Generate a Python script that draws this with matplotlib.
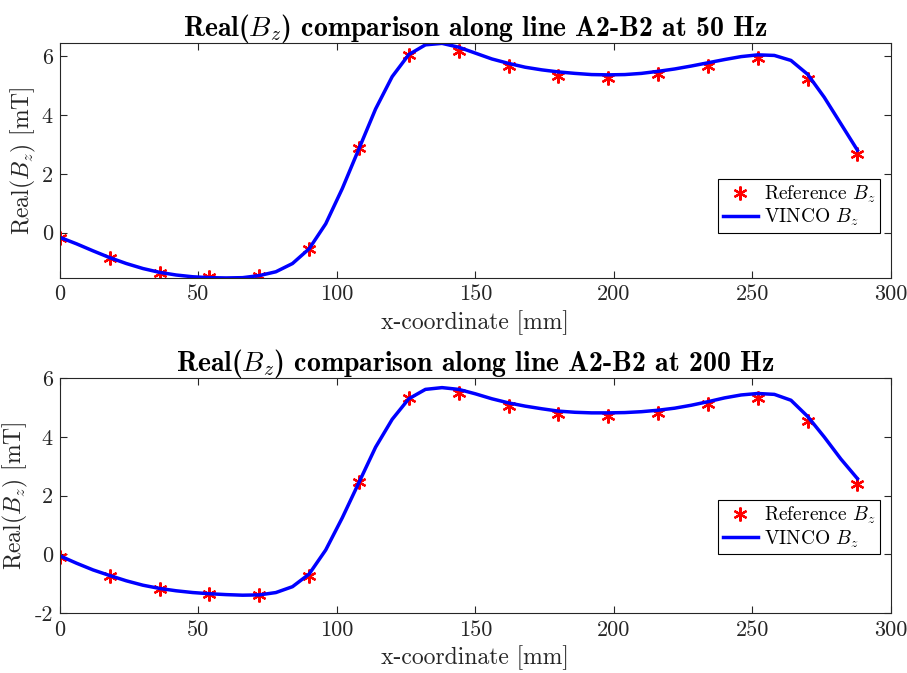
import matplotlib
matplotlib.use('Agg')
import matplotlib.pyplot as plt
from matplotlib.ticker import FuncFormatter

plt.rcParams['font.family'] = 'cmr10'
plt.rcParams['mathtext.fontset'] = 'cm'
plt.rcParams['axes.unicode_minus'] = False

# reference points (every 18 mm)
x_ref = [0, 18, 36, 54, 72, 90, 108, 126, 144, 162, 180, 198, 216, 234, 252, 270, 288]
ref_50 = [-0.19, -0.87, -1.36, -1.52, -1.46, -0.57, 2.87, 6.04, 6.18, 5.66, 5.32,
          5.24, 5.38, 5.67, 5.92, 5.21, 2.66]
ref_200 = [-0.09, -0.72, -1.18, -1.34, -1.37, -0.72, 2.45, 5.32, 5.50, 5.07, 4.79,
           4.70, 4.81, 5.13, 5.33, 4.53, 2.41]

# VINCO curve (every 6 mm)
x_vinco = list(range(0, 289, 6))
vinco_50 = [-0.16, -0.38, -0.62, -0.85, -1.05, -1.22, -1.35, -1.44, -1.50, -1.53,
            -1.54, -1.53, -1.46, -1.33, -1.05, -0.55, 0.30, 1.50, 2.85, 4.20,
            5.30, 6.05, 6.38, 6.43, 6.30, 6.10, 5.90, 5.75, 5.62, 5.53,
            5.46, 5.41, 5.37, 5.36, 5.37, 5.41, 5.48, 5.56, 5.66, 5.77,
            5.88, 5.98, 6.04, 6.02, 5.85, 5.38, 4.60, 3.70, 2.80]
vinco_200 = [-0.05, -0.30, -0.53, -0.72, -0.90, -1.05, -1.16, -1.24, -1.30, -1.34,
             -1.37, -1.39, -1.38, -1.30, -1.10, -0.67, 0.15, 1.25, 2.45, 3.65,
             4.60, 5.30, 5.62, 5.68, 5.62, 5.47, 5.30, 5.16, 5.05, 4.96,
             4.88, 4.84, 4.82, 4.82, 4.83, 4.86, 4.91, 4.98, 5.08, 5.20,
             5.33, 5.43, 5.48, 5.45, 5.25, 4.70, 4.00, 3.25, 2.58]

panels = [
    (ref_50, vinco_50, '50 Hz', [0.066, 0.587, 0.916, 0.349], (-1.54, 6.44), [0, 2, 4, 6], 0.19),
    (ref_200, vinco_200, '200 Hz', [0.066, 0.089, 0.916, 0.349], (-2, 6), [-2, 0, 2, 4, 6], 0.25),
]

fig = plt.figure(figsize=(9.07, 6.73), dpi=100)
axc = '#262626'
for ref, vinco, freq, pos, ylim, yticks, leg_y in panels:
    ax = fig.add_axes(pos)
    ax.plot(x_ref, ref, linestyle='none', marker=(6, 2, 0), markersize=10,
            markeredgewidth=1.6, color='red', label=r'Reference $B_z$')
    ax.plot(x_vinco, vinco, color='blue', linewidth=2.5, label=r'VINCO $B_z$')
    ax.set_xlim(0, 300)
    ax.set_ylim(*ylim)
    ax.set_xticks([0, 50, 100, 150, 200, 250, 300])
    ax.set_yticks(yticks)
    ax.yaxis.set_major_formatter(FuncFormatter(lambda v, p: f'{v:g}'))
    ax.tick_params(direction='in', top=True, right=True, labelsize=16,
                   length=5, color=axc, labelcolor=axc, pad=5)
    for s in ax.spines.values():
        s.set_color(axc)
        s.set_linewidth(0.8)
    ax.set_xlabel('x-coordinate [mm]', fontsize=17, color=axc, labelpad=4)
    ax.set_ylabel(r'Real($B_z$) [mT]', fontsize=17, color=axc, labelpad=3)
    ax.set_title(r'Real($B_z$) comparison along line A2-B2 at ' + freq,
                 fontsize=20, fontfamily='cmb10', pad=5)
    leg = ax.legend(loc='lower right', bbox_to_anchor=(0.987, leg_y), fontsize=14,
                    frameon=True, fancybox=False, framealpha=1, edgecolor='black',
                    borderpad=0.25, handlelength=1.8, handletextpad=0.3,
                    labelspacing=0.1, borderaxespad=0)
    leg.get_frame().set_linewidth(0.8)

fig.savefig('out.png', dpi=100)
